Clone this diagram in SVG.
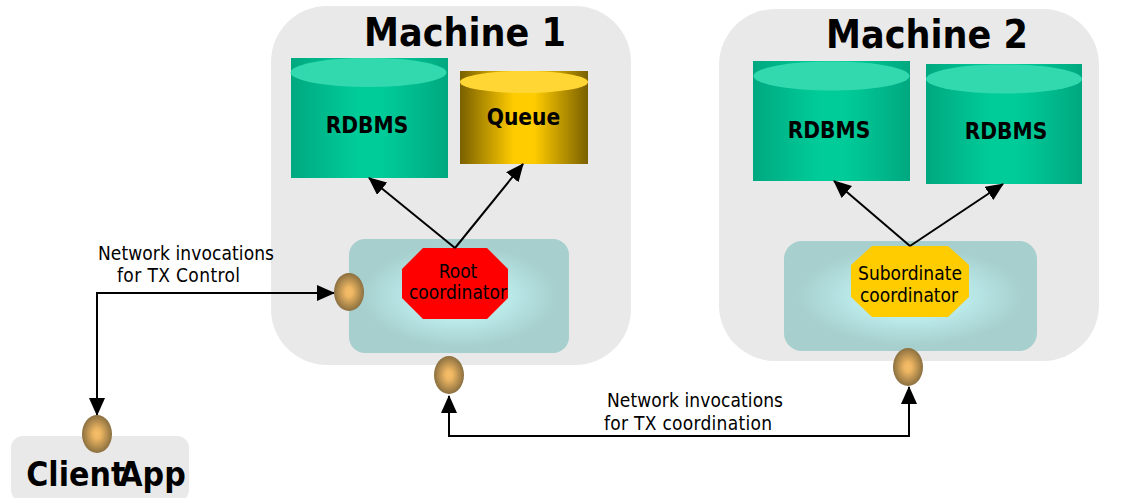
<svg xmlns="http://www.w3.org/2000/svg" width="1126" height="498" viewBox="0 0 1126 498">
<style>
text{font-family:"DejaVu Sans Condensed","DejaVu Sans",sans-serif;fill:#000;text-anchor:middle}
.h{font-size:39px;font-weight:bold}
.db{font-size:22.500px;font-weight:bold}
.c{font-size:19px}
.lb{font-size:19px;text-anchor:start}
.m{fill:#e9e9e9}
.g{fill:url(#teal)}
.gt{fill:#33d9ae}
.b{fill:url(#blue)}
.p{fill:url(#port)}
.ln{fill:none;stroke:#000;stroke-width:2}
</style>
<defs>
<linearGradient id="teal"><stop offset="0" stop-color="#00a880"/><stop offset="0.42" stop-color="#00cc99"/><stop offset="0.58" stop-color="#00cc99"/><stop offset="1" stop-color="#00a880"/></linearGradient>
<linearGradient id="gold"><stop offset="0" stop-color="#7a6000"/><stop offset="0.42" stop-color="#ffcc00"/><stop offset="0.58" stop-color="#ffcc00"/><stop offset="1" stop-color="#7a6000"/></linearGradient>
<radialGradient id="blue"><stop offset="0" stop-color="#c4f5f5"/><stop offset="0.4" stop-color="#bcecec"/><stop offset="0.9" stop-color="#a6cfcd"/></radialGradient>
<radialGradient id="port"><stop offset="0" stop-color="#f5be68"/><stop offset="0.25" stop-color="#eeb662"/><stop offset="1" stop-color="#8b7040"/></radialGradient>
<marker id="a" markerUnits="userSpaceOnUse" markerWidth="18" markerHeight="16" refX="17" refY="8" orient="auto-start-reverse"><path d="M0 0L18 8L0 16Z" fill="#000"/></marker>
</defs>
<g id="machine1"><rect class="m" x="271" y="6" width="360" height="359" rx="56"/><text class="h" x="465" y="46">Machine 1</text></g>
<g id="machine2"><rect class="m" x="719" y="9" width="380" height="352" rx="56"/><text class="h" x="927" y="48">Machine 2</text></g>
<g id="client"><rect class="m" x="11" y="436" width="178" height="66" rx="12"/><text class="h" style="font-size:33.500px" x="106" y="486">Client<tspan dx="-6">App</tspan></text></g>
<g id="rdbms1"><rect class="g" x="291" y="58" width="157" height="120"/><ellipse class="gt" cx="368.500" cy="72.500" rx="78" ry="14.500"/><text class="db" x="367" y="133">RDBMS</text></g>
<g id="queue"><rect x="460" y="71" width="128" height="93" fill="url(#gold)"/><ellipse cx="524" cy="82" rx="64" ry="11" fill="#ffd633"/><text class="db" x="523.500" y="125">Queue</text></g>
<g id="rdbms2"><rect class="g" x="753" y="61" width="157" height="120"/><ellipse class="gt" cx="831.500" cy="76" rx="78" ry="14.500"/><text class="db" x="829" y="138">RDBMS</text></g>
<g id="rdbms3"><rect class="g" x="926" y="64" width="156" height="120"/><ellipse class="gt" cx="1004" cy="79" rx="78" ry="14.500"/><text class="db" x="1006" y="139">RDBMS</text></g>
<g id="root"><rect class="b" x="349" y="239" width="220" height="114" rx="16"/><polygon points="423,248 487,248 508,269 508,298 487,319 423,319 402,298 402,269" fill="#f00"/><text class="c" x="458" y="278">Root</text><text class="c" x="458" y="299">coordinator</text></g>
<g id="subordinate"><rect class="b" x="784" y="241" width="253" height="110" rx="18"/><polygon points="872,246 948,246 969,265 969,297 948,317 872,317 851,297 851,265" fill="#fc0"/><text class="c" x="910" y="280">Subordinate</text><text class="c" x="909" y="302">coordinator</text></g>
<g id="connectors">
<path class="ln" d="M455 248L369 178" marker-end="url(#a)"/>
<path class="ln" d="M455 248L523 164" marker-end="url(#a)"/>
<path class="ln" d="M910 246L834 181" marker-end="url(#a)"/>
<path class="ln" d="M910 246L1003 184" marker-end="url(#a)"/>
<path class="ln" d="M334 293H97V415" marker-start="url(#a)" marker-end="url(#a)"/>
<path class="ln" d="M449 396V436H909V387" marker-start="url(#a)" marker-end="url(#a)"/>
</g>
<g id="ports"><ellipse class="p" cx="349" cy="292" rx="15" ry="19"/><ellipse class="p" cx="449" cy="375" rx="15" ry="19"/><ellipse class="p" cx="908" cy="367" rx="15" ry="19"/><ellipse class="p" cx="97" cy="434" rx="15" ry="19"/></g>
<g id="labels">
<text class="lb" x="98" y="260" textLength="176">Network invocations</text><text class="lb" x="117" y="282" textLength="123">for TX Control</text>
<text class="lb" x="607" y="407" textLength="176">Network invocations</text><text class="lb" x="604" y="430" textLength="168">for TX coordination</text>
</g>
</svg>
